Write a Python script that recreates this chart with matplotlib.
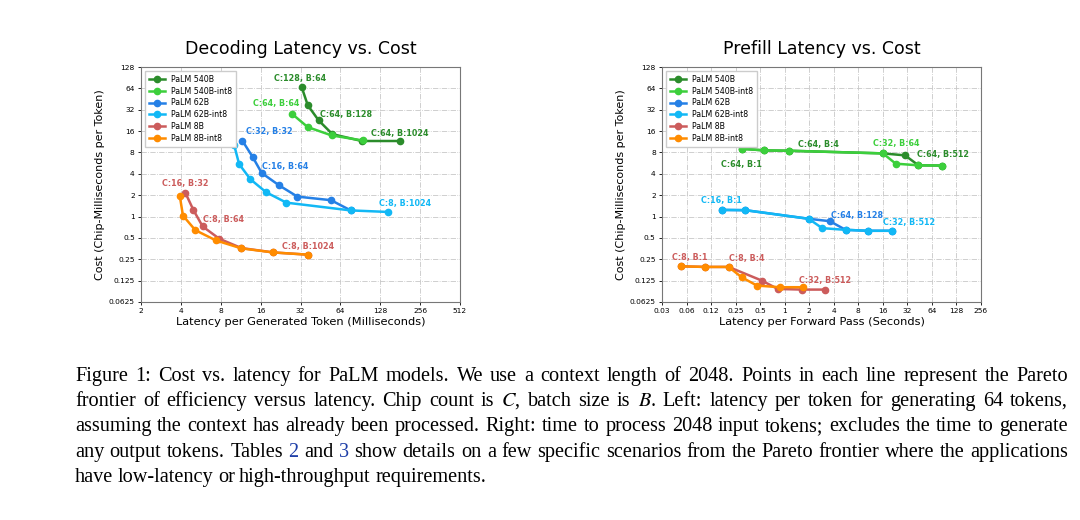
import matplotlib
matplotlib.use("Agg")
import matplotlib.pyplot as plt

plt.rcParams['mathtext.fontset'] = 'stix'

# series names and colours
names = ["PaLM 540B", "PaLM 540B-int8", "PaLM 62B", "PaLM 62B-int8", "PaLM 8B", "PaLM 8B-int8"]
colors = ["#2b8c2b", "#3ccf3c", "#2580e6", "#12b8f5", "#cc5c5c", "#ff8c00"]

# left: decoding latency (ms per token) vs cost
dec_x = [
    [32.7, 36.3, 43.9, 55.7, 92.7, 180.6],
    [27.6, 36.3, 55.0, 94.4],
    [11.65, 13.9, 16.3, 22.0, 30.3, 54.4, 76.6],
    [10.1, 11.0, 13.4, 17.6, 25.0, 76.6, 147.5],
    [4.32, 4.97, 5.84, 7.81, 11.45, 19.96, 36.7],
    [3.92, 4.15, 5.14, 7.37, 11.45, 19.96, 36.7],
]
dec_y = [
    [66.3, 37.0, 22.6, 14.5, 11.6, 11.6],
    [28.0, 18.2, 13.9, 11.8],
    [11.7, 6.96, 4.11, 2.76, 1.91, 1.70, 1.22],
    [10.2, 5.5, 3.35, 2.2, 1.57, 1.22, 1.16],
    [2.17, 1.24, 0.725, 0.486, 0.36, 0.312, 0.29],
    [1.97, 1.03, 0.643, 0.46, 0.356, 0.312, 0.29],
]
# (series, point, text, dx px, dy px)
dec_labels = [
    (0, 0, "C:128, B:64", -2, 9),
    (1, 0, "C:64, B:64", -16, 10),
    (0, 2, "C:64, B:128", 27, 6),
    (0, 5, "C:64, B:1024", 0, 8),
    (2, 0, "C:32, B:32", 27, 9),
    (2, 2, "C:16, B:64", 23, 6),
    (3, 6, "C:8, B:1024", 17, 8),
    (4, 0, "C:16, B:32", 0, 9),
    (4, 2, "C:8, B:64", 21, 7),
    (4, 6, "C:8, B:1024", 0, 8),
]

# right: prefill latency (s per forward pass) vs cost
pre_x = [
    [0.298, 0.562, 1.12, 16.06, 29.96, 43.7, 86.2],
    [0.298, 0.562, 1.12, 16.06, 23.0, 43.7, 86.2],
    [0.169, 0.328, 1.97, 3.58, 5.58, 10.5, 20.9],
    [0.169, 0.328, 1.97, 2.88, 5.58, 10.5, 20.9],
    [0.053, 0.106, 0.205, 0.526, 0.82, 1.63, 3.16],
    [0.053, 0.106, 0.205, 0.298, 0.457, 0.868, 1.66],
]
pre_y = [
    [9.02, 8.55, 8.46, 7.76, 7.28, 5.27, 5.23],
    [9.02, 8.55, 8.46, 7.76, 5.56, 5.27, 5.23],
    [1.24, 1.23, 0.93, 0.86, 0.65, 0.63, 0.63],
    [1.24, 1.23, 0.93, 0.686, 0.65, 0.63, 0.63],
    [0.199, 0.195, 0.195, 0.125, 0.0955, 0.0935, 0.0935],
    [0.199, 0.195, 0.195, 0.139, 0.1065, 0.101, 0.101],
]
pre_labels = [
    (0, 2, "C:64, B:4", 30, 6),
    (0, 0, "C:64, B:1", 0, -16),
    (1, 3, "C:32, B:64", 13, 10),
    (0, 6, "C:64, B:512", 1, 11),
    (3, 0, "C:16, B:1", 0, 9),
    (2, 3, "C:64, B:128", 27, 6),
    (3, 6, "C:32, B:512", 17, 8),
    (4, 0, "C:8, B:1", 9, 9),
    (4, 2, "C:8, B:4", 18, 8),
    (4, 6, "C:32, B:512", 0, 9),
]

yticks = [0.0625, 0.125, 0.25, 0.5, 1, 2, 4, 8, 16, 32, 64, 128]
ytick_labels = ["0.0625", "0.125", "0.25", "0.5", "1", "2", "4", "8", "16", "32", "64", "128"]
dec_xticks = [2, 4, 8, 16, 32, 64, 128, 256, 512]
dec_xtick_labels = ["2", "4", "8", "16", "32", "64", "128", "256", "512"]
pre_xticks = [0.03125, 0.0625, 0.125, 0.25, 0.5, 1, 2, 4, 8, 16, 32, 64, 128, 256]
pre_xtick_labels = ["0.03", "0.06", "0.12", "0.25", "0.5", "1", "2", "4", "8", "16", "32", "64", "128", "256"]

caption = [
    "Figure 1: Cost vs. latency for PaLM models. We use a context length of 2048. Points in each line represent the Pareto",
    "frontier of efficiency versus latency. Chip count is $C$, batch size is $B$. Left: latency per token for generating 64 tokens,",
    "assuming the context has already been processed. Right: time to process 2048 input tokens; excludes the time to generate",
    "any output tokens. Tables 2 and 3 show details on a few specific scenarios from the Pareto frontier where the applications",
    "have low-latency or high-throughput requirements.",
]
link_words = {(3, 4): "#1f3fa8", (3, 6): "#1f3fa8"}

W, H = 1080, 520
fig = plt.figure(figsize=(W / 100, H / 100), dpi=100)


def panel(rect, xs, ys, labels, xticks, xtick_labels, xlim, title, xlabel):
    ax = fig.add_axes(rect)
    for i in range(len(names)):
        ax.plot(xs[i], ys[i], "-o", color=colors[i], lw=1.8, ms=4.5, label=names[i])
    for s, p, txt, dx, dy in labels:
        ax.annotate(txt, (xs[s][p], ys[s][p]), xytext=(dx, dy), textcoords="offset pixels",
                    ha="center", va="center", fontsize=5.8, fontweight="bold", color=colors[s])
    ax.set_xscale("log", base=2)
    ax.set_yscale("log", base=2)
    ax.set_xlim(*xlim)
    ax.set_ylim(0.0625, 128)
    ax.set_xticks(xticks)
    ax.set_xticklabels(xtick_labels)
    ax.set_yticks(yticks)
    ax.set_yticklabels(ytick_labels)
    ax.minorticks_off()
    ax.tick_params(labelsize=5.4, length=2.5, width=0.6, pad=2)
    ax.grid(True, ls="-.", color="#c8c8c8", lw=0.6)
    for sp in ax.spines.values():
        sp.set_color("#777777")
        sp.set_linewidth(0.8)
    ax.set_title(title, fontsize=12.5, pad=9)
    ax.set_xlabel(xlabel, fontsize=8.2, labelpad=2)
    ax.set_ylabel("Cost (Chip-Milliseconds per Token)", fontsize=8.0, labelpad=3)
    ax.legend(loc="upper left", fontsize=5.7, handlelength=2.0, borderpad=0.5,
              labelspacing=0.35, framealpha=1, edgecolor="#cccccc", fancybox=False)
    return ax


panel([141 / W, 1 - 302 / H, 319 / W, 235 / H], dec_x, dec_y, dec_labels, dec_xticks,
      dec_xtick_labels, (2, 512), "Decoding Latency vs. Cost",
      "Latency per Generated Token (Milliseconds)")
panel([662 / W, 1 - 302 / H, 319 / W, 235 / H], pre_x, pre_y, pre_labels, pre_xticks,
      pre_xtick_labels, (0.03125, 256), "Prefill Latency vs. Cost",
      "Latency per Forward Pass (Seconds)")

# justified caption, one word at a time
renderer = fig.canvas.get_renderer()
x0, x1 = 75, 1068
baselines = [381, 406, 431, 457, 482]
for li, line in enumerate(caption):
    words = line.split(" ")
    texts = []
    for wi, w in enumerate(words):
        col = link_words.get((li, wi), "black")
        t = fig.text(0, 1 - baselines[li] / H, w, fontsize=14.6, family="Liberation Serif",
                     color=col, va="baseline", ha="left")
        texts.append(t)
    widths = [t.get_window_extent(renderer).width for t in texts]
    if li < len(caption) - 1:
        gap = (x1 - x0 - sum(widths)) / (len(words) - 1)
    else:
        gap = 4.5
    x = x0
    for t, w in zip(texts, widths):
        t.set_x(x / W)
        x += w + gap

fig.savefig("out.png", dpi=100, facecolor="white")
